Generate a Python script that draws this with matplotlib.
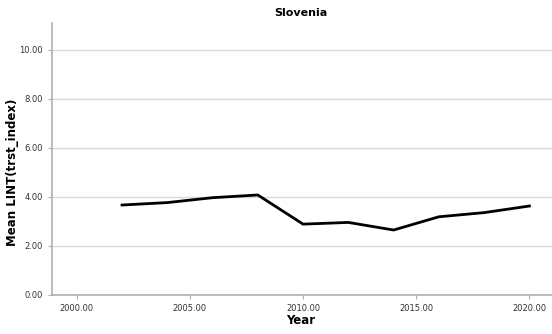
import matplotlib
matplotlib.use("Agg")
import matplotlib.pyplot as plt

years = [2002, 2004, 2006, 2008, 2010, 2012, 2014, 2016, 2018, 2020]
values = [3.67, 3.77, 3.97, 4.08, 2.89, 2.96, 2.65, 3.19, 3.36, 3.63]
xticks = [2000, 2005, 2010, 2015, 2020]
yticks = [0, 2, 4, 6, 8, 10]

fig = plt.figure(figsize=(5.52, 3.34), dpi=100)
ax = fig.add_axes([0.094, 0.117, 0.906, 0.814])
ax.plot(years, values, color="black", linewidth=2.0, solid_joinstyle="miter")
ax.set_xlim(1998.9, 2021.0)
ax.set_ylim(0, 11.1)
ax.set_xticks(xticks)
ax.set_xticklabels([f"{v:.2f}" for v in xticks])
ax.set_yticks(yticks)
ax.set_yticklabels([f"{v:.2f}" for v in yticks])
ax.grid(axis="y", color="#d9d9d9", linewidth=1.0)
ax.set_axisbelow(True)
for s in ["top", "right"]:
    ax.spines[s].set_visible(False)
for s in ["left", "bottom"]:
    ax.spines[s].set_color("#b0b0b0")
    ax.spines[s].set_linewidth(1.2)
ax.tick_params(axis="both", labelsize=6, colors="#b0b0b0", labelcolor="#333333", length=3)
fig.text(301 / 552, 1 - 13 / 334, "Slovenia", fontsize=8, fontweight="bold", ha="center", va="center")
fig.text(301 / 552, 1 - 321 / 334, "Year", fontsize=8.5, fontweight="bold", ha="center", va="center")
fig.text(13 / 552, 1 - 172 / 334, "Mean LINT(trst_index)", fontsize=8.5, fontweight="bold",
         ha="center", va="center", rotation=90)
fig.savefig("out.png", dpi=100)
